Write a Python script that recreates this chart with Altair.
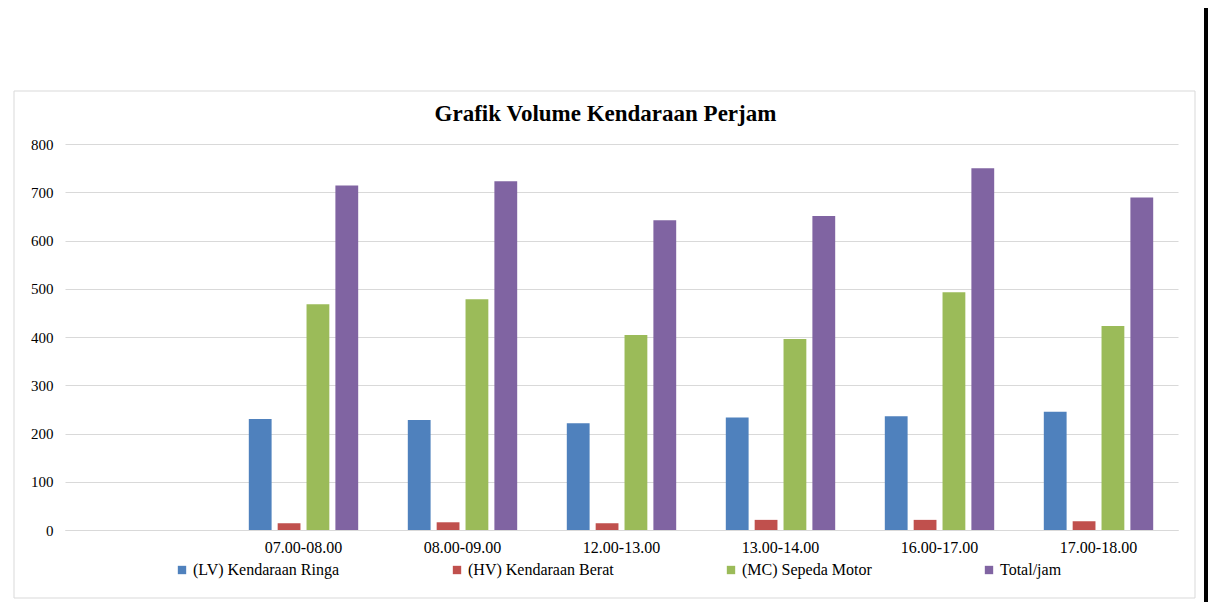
import altair as alt
import pandas as pd

categories = ["", "07.00-08.00", "08.00-09.00", "12.00-13.00",
              "13.00-14.00", "16.00-17.00", "17.00-18.00"]
periods = categories[1:]
series_names = ["(LV) Kendaraan Ringa", "(HV) Kendaraan Berat",
                "(MC) Sepeda Motor", "Total/jam"]
lv = [230, 228, 221, 233, 236, 245]
hv = [14, 16, 14, 21, 21, 18]
mc = [468, 478, 404, 396, 493, 423]
total = [714, 723, 642, 651, 750, 689]
y_ticks = [0, 100, 200, 300, 400, 500, 600, 700, 800]
colors = ["#4F81BD", "#C0504D", "#9BBB59", "#8064A2"]

rows = []
for name, vals in zip(series_names, [lv, hv, mc, total]):
    for p, v in zip(periods, vals):
        rows.append({"Periode": p, "Jenis": name, "Volume": v})
df = pd.DataFrame(rows)

FONT = "Liberation Serif"

bars = alt.Chart(df).mark_bar().encode(
    x=alt.X("Periode:N", sort=categories,
            scale=alt.Scale(domain=categories, paddingInner=0.312, paddingOuter=0.156),
            axis=alt.Axis(title=None, labelAngle=0, ticks=False, domain=True,
                          domainColor="#d9d9d9", labelPadding=9,
                          labelFont=FONT, labelFontSize=16, labelColor="#000000")),
    xOffset=alt.XOffset("Jenis:N", sort=series_names,
                        scale=alt.Scale(domain=series_names, paddingInner=0.21, paddingOuter=0)),
    y=alt.Y("Volume:Q",
            scale=alt.Scale(domain=[0, 800], nice=False),
            axis=alt.Axis(title=None, values=y_ticks, ticks=False, domain=False,
                          gridColor="#d9d9d9", gridWidth=1, labelPadding=12,
                          labelFont=FONT, labelFontSize=15, labelColor="#000000")),
    color=alt.Color("Jenis:N", sort=series_names,
                    scale=alt.Scale(domain=series_names, range=colors),
                    legend=alt.Legend(title=None, orient="none", direction="horizontal",
                                      legendX=109, legendY=418, columnPadding=109,
                                      symbolType="square", symbolSize=70,
                                      symbolStrokeWidth=0, labelOffset=3,
                                      labelFont=FONT, labelFontSize=16,
                                      labelColor="#000000", padding=0)),
)

# chart-area border (light grey) and the worksheet's thick right border
frame = alt.Chart(alt.Data(values=[{"a": 1}])).mark_rect(
    fill="transparent", stroke="#d9d9d9", strokeWidth=1
).encode(
    x=alt.value(-51), x2=alt.value(1130), y=alt.value(-53), y2=alt.value(454)
)
sheet_edge = alt.Chart(alt.Data(values=[{"a": 1}])).mark_rect(
    fill="#000000"
).encode(
    x=alt.value(1139), x2=alt.value(1143), y=alt.value(-136), y2=alt.value(458)
)

chart = alt.layer(frame, sheet_edge, bars).properties(
    width=1113,
    height=386,
    autosize=alt.AutoSizeParams(type="none"),
    padding={"left": 57, "top": 136, "right": 30, "bottom": 72},
    title=alt.Title("Grafik Volume Kendaraan Perjam", font=FONT, fontSize=23,
                    fontWeight="bold", color="#000000", anchor="middle",
                    frame="group", baseline="alphabetic", offset=-136, dx=-16),
).configure(background="white").configure_view(stroke=None)

chart.save("out.html", embed_options={"renderer": "svg", "actions": False})
